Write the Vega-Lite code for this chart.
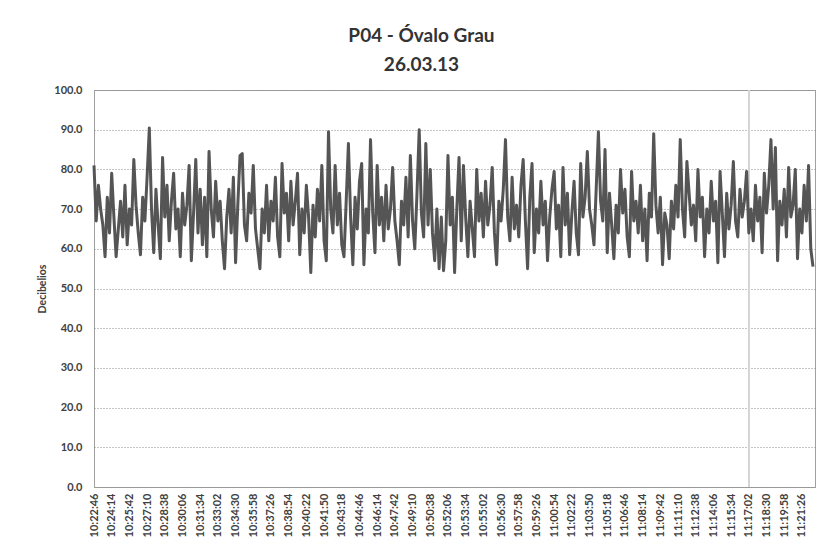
{
  "$schema": "https://vega.github.io/schema/vega-lite/v6.json",
  "width": 721,
  "height": 397,
  "autosize": {"type": "none"},
  "padding": {"left": 94, "top": 90, "right": 7, "bottom": 58},
  "background": "white",
  "title": {
    "text": ["P04 - Óvalo Grau", "26.03.13"],
    "font": "Lato",
    "fontSize": 19,
    "fontWeight": "bold",
    "color": "#333333",
    "lineHeight": 29,
    "anchor": "middle",
    "frame": "bounds",
    "offset": 9,
    "dx": -5
  },
  "config": {
    "font": "Lato",
    "view": {"stroke": "#a0a0a0", "strokeWidth": 1}
  },
  "data": {
    "values": [
      {"sec": 0, "db": 81}, {"sec": 11, "db": 67}, {"sec": 22, "db": 76}, {"sec": 33, "db": 70}, {"sec": 44, "db": 66}, {"sec": 55, "db": 58}, {"sec": 66, "db": 73}, {"sec": 77, "db": 64}, {"sec": 88, "db": 79}, {"sec": 99, "db": 68},
      {"sec": 110, "db": 58}, {"sec": 121, "db": 65}, {"sec": 132, "db": 72}, {"sec": 143, "db": 63}, {"sec": 154, "db": 76}, {"sec": 165, "db": 61}, {"sec": 176, "db": 70}, {"sec": 187, "db": 66}, {"sec": 198, "db": 82.5}, {"sec": 209, "db": 71},
      {"sec": 220, "db": 64}, {"sec": 231, "db": 58.5}, {"sec": 242, "db": 73}, {"sec": 253, "db": 67}, {"sec": 264, "db": 78}, {"sec": 275, "db": 90.4}, {"sec": 286, "db": 70}, {"sec": 297, "db": 59}, {"sec": 308, "db": 75}, {"sec": 319, "db": 66},
      {"sec": 330, "db": 57.5}, {"sec": 341, "db": 83}, {"sec": 352, "db": 68}, {"sec": 363, "db": 76}, {"sec": 374, "db": 62}, {"sec": 385, "db": 72}, {"sec": 396, "db": 79}, {"sec": 407, "db": 65}, {"sec": 418, "db": 70}, {"sec": 429, "db": 58},
      {"sec": 440, "db": 74}, {"sec": 451, "db": 66}, {"sec": 462, "db": 71}, {"sec": 473, "db": 81}, {"sec": 484, "db": 57}, {"sec": 495, "db": 69}, {"sec": 506, "db": 82.5}, {"sec": 517, "db": 64}, {"sec": 528, "db": 75}, {"sec": 539, "db": 61},
      {"sec": 550, "db": 73}, {"sec": 561, "db": 58}, {"sec": 572, "db": 84.5}, {"sec": 583, "db": 70}, {"sec": 594, "db": 63}, {"sec": 605, "db": 77}, {"sec": 616, "db": 67}, {"sec": 627, "db": 72}, {"sec": 638, "db": 62}, {"sec": 649, "db": 55},
      {"sec": 660, "db": 68}, {"sec": 671, "db": 75}, {"sec": 682, "db": 64}, {"sec": 693, "db": 78}, {"sec": 704, "db": 56.5}, {"sec": 715, "db": 71}, {"sec": 726, "db": 83.5}, {"sec": 737, "db": 84}, {"sec": 748, "db": 66}, {"sec": 759, "db": 62},
      {"sec": 770, "db": 74}, {"sec": 781, "db": 69}, {"sec": 792, "db": 81}, {"sec": 803, "db": 65}, {"sec": 814, "db": 60}, {"sec": 825, "db": 55}, {"sec": 836, "db": 70}, {"sec": 847, "db": 64}, {"sec": 858, "db": 76}, {"sec": 869, "db": 62},
      {"sec": 880, "db": 72}, {"sec": 891, "db": 67}, {"sec": 902, "db": 78}, {"sec": 913, "db": 63}, {"sec": 924, "db": 58}, {"sec": 935, "db": 81.5}, {"sec": 946, "db": 69}, {"sec": 957, "db": 74}, {"sec": 968, "db": 62}, {"sec": 979, "db": 77},
      {"sec": 990, "db": 66}, {"sec": 1001, "db": 72}, {"sec": 1012, "db": 79}, {"sec": 1023, "db": 58.5}, {"sec": 1034, "db": 70}, {"sec": 1045, "db": 64}, {"sec": 1056, "db": 76}, {"sec": 1067, "db": 68}, {"sec": 1078, "db": 54}, {"sec": 1089, "db": 71},
      {"sec": 1100, "db": 63}, {"sec": 1111, "db": 75}, {"sec": 1122, "db": 67}, {"sec": 1133, "db": 81}, {"sec": 1144, "db": 62}, {"sec": 1155, "db": 57}, {"sec": 1166, "db": 89.5}, {"sec": 1177, "db": 70}, {"sec": 1188, "db": 64}, {"sec": 1199, "db": 81},
      {"sec": 1210, "db": 66}, {"sec": 1221, "db": 74}, {"sec": 1232, "db": 61}, {"sec": 1243, "db": 58}, {"sec": 1254, "db": 72}, {"sec": 1265, "db": 86.5}, {"sec": 1276, "db": 68}, {"sec": 1287, "db": 56}, {"sec": 1298, "db": 73}, {"sec": 1309, "db": 65},
      {"sec": 1320, "db": 77}, {"sec": 1331, "db": 81.5}, {"sec": 1342, "db": 56}, {"sec": 1353, "db": 70}, {"sec": 1364, "db": 64}, {"sec": 1375, "db": 87.5}, {"sec": 1386, "db": 69}, {"sec": 1397, "db": 59}, {"sec": 1408, "db": 81}, {"sec": 1419, "db": 66},
      {"sec": 1430, "db": 73}, {"sec": 1441, "db": 62}, {"sec": 1452, "db": 76}, {"sec": 1463, "db": 65}, {"sec": 1474, "db": 70}, {"sec": 1485, "db": 80.5}, {"sec": 1496, "db": 67}, {"sec": 1507, "db": 62}, {"sec": 1518, "db": 56}, {"sec": 1529, "db": 72},
      {"sec": 1540, "db": 66}, {"sec": 1551, "db": 78}, {"sec": 1562, "db": 63}, {"sec": 1573, "db": 83.5}, {"sec": 1584, "db": 67}, {"sec": 1595, "db": 60}, {"sec": 1606, "db": 74}, {"sec": 1617, "db": 90}, {"sec": 1628, "db": 69}, {"sec": 1639, "db": 63},
      {"sec": 1650, "db": 86.5}, {"sec": 1661, "db": 66}, {"sec": 1672, "db": 80}, {"sec": 1683, "db": 64}, {"sec": 1694, "db": 57}, {"sec": 1705, "db": 70}, {"sec": 1716, "db": 55}, {"sec": 1727, "db": 68}, {"sec": 1738, "db": 54.5}, {"sec": 1749, "db": 62},
      {"sec": 1760, "db": 83.5}, {"sec": 1771, "db": 66}, {"sec": 1782, "db": 73}, {"sec": 1793, "db": 54}, {"sec": 1804, "db": 70}, {"sec": 1815, "db": 83}, {"sec": 1826, "db": 62}, {"sec": 1837, "db": 81}, {"sec": 1848, "db": 68}, {"sec": 1859, "db": 58},
      {"sec": 1870, "db": 72}, {"sec": 1881, "db": 65}, {"sec": 1892, "db": 58}, {"sec": 1903, "db": 80}, {"sec": 1914, "db": 67}, {"sec": 1925, "db": 74}, {"sec": 1936, "db": 63}, {"sec": 1947, "db": 77}, {"sec": 1958, "db": 66}, {"sec": 1969, "db": 71},
      {"sec": 1980, "db": 80.5}, {"sec": 1991, "db": 64}, {"sec": 2002, "db": 56}, {"sec": 2013, "db": 72}, {"sec": 2024, "db": 67}, {"sec": 2035, "db": 75}, {"sec": 2046, "db": 87.5}, {"sec": 2057, "db": 68}, {"sec": 2068, "db": 62}, {"sec": 2079, "db": 78},
      {"sec": 2090, "db": 65}, {"sec": 2101, "db": 71}, {"sec": 2112, "db": 63}, {"sec": 2123, "db": 76}, {"sec": 2134, "db": 82.5}, {"sec": 2145, "db": 67}, {"sec": 2156, "db": 55}, {"sec": 2167, "db": 73}, {"sec": 2178, "db": 81.5}, {"sec": 2189, "db": 59},
      {"sec": 2200, "db": 70}, {"sec": 2211, "db": 64}, {"sec": 2222, "db": 77}, {"sec": 2233, "db": 66}, {"sec": 2244, "db": 72}, {"sec": 2255, "db": 57}, {"sec": 2266, "db": 68}, {"sec": 2277, "db": 75}, {"sec": 2288, "db": 79.5}, {"sec": 2299, "db": 65},
      {"sec": 2310, "db": 71}, {"sec": 2321, "db": 58}, {"sec": 2332, "db": 80.5}, {"sec": 2343, "db": 66}, {"sec": 2354, "db": 74}, {"sec": 2365, "db": 58.5}, {"sec": 2376, "db": 69}, {"sec": 2387, "db": 77}, {"sec": 2398, "db": 64}, {"sec": 2409, "db": 58.5},
      {"sec": 2420, "db": 81.5}, {"sec": 2431, "db": 68}, {"sec": 2442, "db": 73}, {"sec": 2453, "db": 84.5}, {"sec": 2464, "db": 70}, {"sec": 2475, "db": 66}, {"sec": 2486, "db": 61}, {"sec": 2497, "db": 75}, {"sec": 2508, "db": 89.5}, {"sec": 2519, "db": 72},
      {"sec": 2530, "db": 67}, {"sec": 2541, "db": 85}, {"sec": 2552, "db": 59}, {"sec": 2563, "db": 74}, {"sec": 2574, "db": 66}, {"sec": 2585, "db": 57.5}, {"sec": 2596, "db": 71}, {"sec": 2607, "db": 64}, {"sec": 2618, "db": 80}, {"sec": 2629, "db": 69},
      {"sec": 2640, "db": 75}, {"sec": 2651, "db": 63}, {"sec": 2662, "db": 58}, {"sec": 2673, "db": 79.5}, {"sec": 2684, "db": 67}, {"sec": 2695, "db": 72}, {"sec": 2706, "db": 64}, {"sec": 2717, "db": 76}, {"sec": 2728, "db": 62}, {"sec": 2739, "db": 70},
      {"sec": 2750, "db": 57}, {"sec": 2761, "db": 74}, {"sec": 2772, "db": 68}, {"sec": 2783, "db": 89}, {"sec": 2794, "db": 71}, {"sec": 2805, "db": 64}, {"sec": 2816, "db": 73}, {"sec": 2827, "db": 56}, {"sec": 2838, "db": 69}, {"sec": 2849, "db": 66},
      {"sec": 2860, "db": 57.5}, {"sec": 2871, "db": 72}, {"sec": 2882, "db": 65}, {"sec": 2893, "db": 76}, {"sec": 2904, "db": 68}, {"sec": 2915, "db": 87.5}, {"sec": 2926, "db": 70}, {"sec": 2937, "db": 63}, {"sec": 2948, "db": 82}, {"sec": 2959, "db": 74},
      {"sec": 2970, "db": 66}, {"sec": 2981, "db": 71}, {"sec": 2992, "db": 62}, {"sec": 3003, "db": 80}, {"sec": 3014, "db": 68}, {"sec": 3025, "db": 73}, {"sec": 3036, "db": 58}, {"sec": 3047, "db": 70}, {"sec": 3058, "db": 64}, {"sec": 3069, "db": 77},
      {"sec": 3080, "db": 67}, {"sec": 3091, "db": 72}, {"sec": 3102, "db": 56.5}, {"sec": 3113, "db": 79.5}, {"sec": 3124, "db": 69}, {"sec": 3135, "db": 58}, {"sec": 3146, "db": 74}, {"sec": 3157, "db": 65}, {"sec": 3168, "db": 71}, {"sec": 3179, "db": 82},
      {"sec": 3190, "db": 67}, {"sec": 3201, "db": 63}, {"sec": 3212, "db": 75}, {"sec": 3223, "db": 68}, {"sec": 3234, "db": 72}, {"sec": 3245, "db": 79.5}, {"sec": 3256, "db": 64}, {"sec": 3267, "db": 70}, {"sec": 3278, "db": 62}, {"sec": 3289, "db": 76},
      {"sec": 3300, "db": 67}, {"sec": 3311, "db": 73}, {"sec": 3322, "db": 59}, {"sec": 3333, "db": 79}, {"sec": 3344, "db": 69}, {"sec": 3355, "db": 76}, {"sec": 3366, "db": 87.5}, {"sec": 3377, "db": 70}, {"sec": 3388, "db": 85.5}, {"sec": 3399, "db": 57},
      {"sec": 3410, "db": 72}, {"sec": 3421, "db": 66}, {"sec": 3432, "db": 75}, {"sec": 3443, "db": 63}, {"sec": 3454, "db": 80.5}, {"sec": 3465, "db": 68}, {"sec": 3476, "db": 71}, {"sec": 3487, "db": 80}, {"sec": 3498, "db": 57.5}, {"sec": 3509, "db": 70},
      {"sec": 3520, "db": 64}, {"sec": 3531, "db": 76}, {"sec": 3542, "db": 67}, {"sec": 3553, "db": 81}, {"sec": 3564, "db": 60}, {"sec": 3575, "db": 55.5}
    ]
  },
  "encoding": {
    "x": {
      "field": "sec",
      "type": "quantitative",
      "scale": {"domain": [0, 3585], "nice": false, "zero": false},
      "axis": {
        "title": null,
        "grid": false,
        "ticks": false,
        "domain": false,
        "values": [0, 88, 176, 264, 352, 440, 528, 616, 704, 792, 880, 968, 1056, 1144, 1232, 1320, 1408, 1496, 1584, 1672, 1760, 1848, 1936, 2024, 2112, 2200, 2288, 2376, 2464, 2552, 2640, 2728, 2816, 2904, 2992, 3080, 3168, 3256, 3344, 3432, 3520],
        "labelExpr": "timeFormat(datetime(2013, 2, 26, 10, 22, 46 + datum.value), '%H:%M:%S')",
        "labelAngle": -90,
        "labelAlign": "right",
        "labelBaseline": "middle",
        "labelPadding": 6,
        "labelFontSize": 11,
        "labelFontWeight": "bold",
        "labelColor": "#404040",
        "labelOverlap": false,
        "labelFlush": false,
        "labelBound": false
      }
    },
    "y": {
      "field": "db",
      "type": "quantitative",
      "scale": {"domain": [0, 100], "nice": false},
      "axis": {
        "title": "Decibelios",
        "titleFontSize": 10.5,
        "titleFontWeight": "bold",
        "titleColor": "#404040",
        "titlePadding": 6,
        "values": [0, 10, 20, 30, 40, 50, 60, 70, 80, 90, 100],
        "format": ".1f",
        "labelFontSize": 11,
        "labelFontWeight": "bold",
        "labelColor": "#404040",
        "labelPadding": 12,
        "ticks": false,
        "domain": false,
        "grid": true,
        "gridColor": "#8c8c8c",
        "gridDash": [1, 2],
        "gridWidth": 1
      }
    }
  },
  "layer": [
    {
      "mark": {"type": "rule", "color": "#d4d4d4", "strokeWidth": 1},
      "encoding": {"x": {"datum": 3256}, "y": null}
    },
    {
      "mark": {"type": "line", "color": "#555555", "strokeWidth": 3, "strokeJoin": "round"}
    }
  ]
}
